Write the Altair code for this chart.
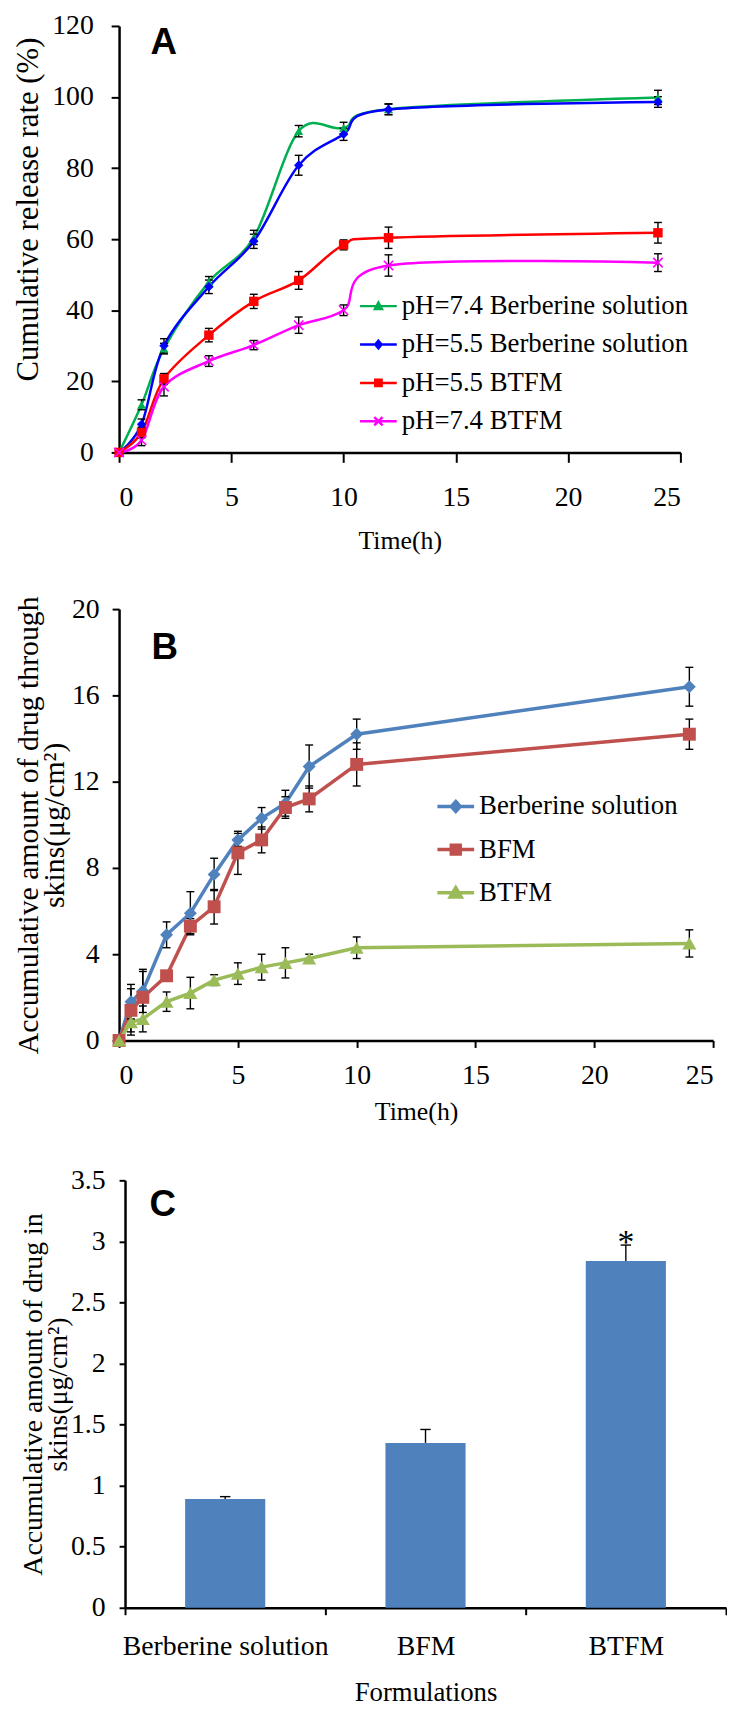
import altair as alt
import pandas as pd

# ---------------- Panel A data ----------------
a_time = [0, 1, 2, 4, 6, 8, 10, 12, 24]
a_series = ["pH=7.4 Berberine solution", "pH=5.5 Berberine solution", "pH=5.5 BTFM", "pH=7.4 BTFM"]
a_green = [0, 13.4, 29.2, 48.0, 60.5, 90.4, 91.3, 96.6, 99.9]
a_green_err = [0, 1.4, 1.5, 1.5, 2.0, 1.6, 1.6, 1.5, 2.0]
a_blue = [0, 7.9, 30.0, 46.6, 59.4, 80.8, 89.5, 96.5, 98.6]
a_blue_err = [0, 1.5, 2.0, 1.9, 2.0, 2.8, 1.7, 1.5, 1.5]
a_red = [0, 5.6, 20.7, 33.0, 42.5, 48.4, 58.4, 60.4, 61.8]
a_red_err = [0, 1.5, 1.5, 1.9, 2.0, 2.5, 1.4, 3.0, 2.9]
a_mag = [0, 3.4, 18.5, 25.7, 30.2, 35.8, 40.0, 52.6, 53.4]
a_mag_err = [0, 1.5, 2.6, 1.5, 1.3, 2.3, 1.5, 3.0, 2.5]

# ---------------- Panel B data ----------------
b_time = [0, 0.5, 1, 2, 3, 4, 5, 6, 7, 8, 10, 24]
b_series = ["Berberine solution", "BFM", "BTFM"]
b_sol = [0, 1.8, 2.3, 4.9, 5.9, 7.7, 9.3, 10.3, 11.0, 12.7, 14.2, 16.4]
b_sol_err = [0, 0.8, 1.0, 0.6, 1.0, 0.75, 0.3, 0.5, 0.6, 1.0, 0.7, 0.9]
b_bfm = [0, 1.4, 2.0, 3.0, 5.3, 6.2, 8.7, 9.3, 10.8, 11.2, 12.8, 14.2]
b_bfm_err = [0, 1.0, 1.2, 0.1, 0.35, 0.8, 1.0, 0.6, 0.5, 0.6, 1.0, 0.7]
b_btfm = [0, 0.85, 1.0, 1.8, 2.2, 2.8, 3.1, 3.4, 3.6, 3.8, 4.3, 4.5]
b_btfm_err = [0, 0.6, 0.6, 0.45, 0.73, 0.25, 0.5, 0.6, 0.7, 0.2, 0.5, 0.63]

# ---------------- Panel C data ----------------
c_cats = ["Berberine solution", "BFM", "BTFM"]
c_vals = [0.89, 1.35, 2.84]
c_errs = [0.02, 0.11, 0.13]
c_sig = ["", "", "*"]

SERIF = "Liberation Serif"
SANS = "Liberation Sans"


def long_df(times, names, vals, errs):
    rows = []
    for name, v, e in zip(names, vals, errs):
        for t, vi, ei in zip(times, v, e):
            rows.append({"series": name, "t": t, "v": vi, "e": ei,
                         "lo": vi - ei, "hi": vi + ei})
    return pd.DataFrame(rows)


dfA = long_df(a_time, a_series, [a_green, a_blue, a_red, a_mag],
              [a_green_err, a_blue_err, a_red_err, a_mag_err])
dfB = long_df(b_time, b_series, [b_sol, b_bfm, b_btfm],
              [b_sol_err, b_bfm_err, b_btfm_err])
dfC = pd.DataFrame({"cat": c_cats, "v": c_vals, "e": c_errs, "sig": c_sig})
dfC["hi"] = dfC["v"] + dfC["e"]


def make_x(title, tick_size, label_pad, title_pad):
    sc = alt.Scale(domain=[0, 25], nice=False)
    ax = alt.Axis(values=[0, 5, 10, 15, 20, 25], title=title,
                  tickSize=tick_size, labelPadding=label_pad,
                  titlePadding=title_pad, titleFontSize=26)
    return sc, ax


def make_y(domain, values, title, tick_size, label_pad, title_pad, title_size,
           line_h=None, extra=None):
    kw = dict(values=values, title=title, tickSize=tick_size,
              labelPadding=label_pad, titlePadding=title_pad,
              titleFontSize=title_size)
    if line_h is not None:
        kw["titleLineHeight"] = line_h
    if extra:
        kw.update(extra)
    return alt.Scale(domain=domain, nice=False), alt.Axis(**kw)


def panel_letter(letter, px, py):
    return alt.Chart(pd.DataFrame({"L": [letter]})).mark_text(
        font=SANS, fontWeight="bold", fontSize=37, color="black",
        align="center", baseline="middle"
    ).encode(x=alt.value(px), y=alt.value(py), text="L:N")


def line_panel(df, series, colors, shapes, sizes, filled, legend_paths,
               xspec, yspec, line_w, legend_x, legend_y, row_pad,
               marker_stroke, curve, label_offset):
    xs, xa = xspec
    ys, ya = yspec
    xf = lambda f: alt.X(f"{f}:Q", scale=xs, axis=xa)
    yf = lambda f: alt.Y(f"{f}:Q", scale=ys, axis=ya)

    line_kw = dict(interpolate=curve, strokeWidth=line_w)
    if curve == "cardinal":
        line_kw["tension"] = 0

    lines = []
    markers = []
    for s, c, sh, sz, fl in zip(series, colors, shapes, sizes, filled):
        lines.append(
            alt.Chart(df).transform_filter(alt.datum.series == s).mark_line(
                color=c, **line_kw).encode(x=xf("t"), y=yf("v"))
        )
        markers.append(
            alt.Chart(df).transform_filter(alt.datum.series == s).mark_point(
                shape=sh, size=sz, filled=fl, color=c, opacity=1,
                strokeWidth=marker_stroke if not fl else 0.5
            ).encode(x=xf("t"), y=yf("v"))
        )

    eb = alt.Chart(df).transform_filter("datum.e > 0").mark_rule(
        color="black", strokeWidth=1.4).encode(x=xf("t"), y=yf("lo"), y2="hi:Q")
    cap_lo = alt.Chart(df).transform_filter("datum.e > 0").mark_point(
        shape="stroke", size=64, color="black", strokeWidth=1.4, opacity=1).encode(x=xf("t"), y=yf("lo"))
    cap_hi = alt.Chart(df).transform_filter("datum.e > 0").mark_point(
        shape="stroke", size=64, color="black", strokeWidth=1.4, opacity=1).encode(x=xf("t"), y=yf("hi"))

    leg = alt.Legend(title=None, orient="none", legendX=legend_x, legendY=legend_y,
                     symbolSize=400, symbolStrokeWidth=line_w, labelFont=SERIF,
                     labelFontSize=27, labelColor="black", labelOffset=label_offset,
                     rowPadding=row_pad, padding=0, labelLimit=600, symbolOpacity=1)
    legend_layer = alt.Chart(df).transform_filter("false").mark_point(
        opacity=1, strokeWidth=line_w).encode(
        x=xf("t"), y=yf("v"),
        fill=alt.Fill("series:N", scale=alt.Scale(domain=series, range=colors), legend=leg),
        stroke=alt.Stroke("series:N", scale=alt.Scale(domain=series, range=colors), legend=leg),
        shape=alt.Shape("series:N", scale=alt.Scale(domain=series, range=legend_paths), legend=leg),
    )
    return lines + [eb, cap_lo, cap_hi] + markers + [legend_layer]


# ---------------- Panel A ----------------
colA = ["#00B050", "#0000FF", "#FF0000", "#FF00FF"]
shapesA = ["triangle-up", "diamond", "square", "M-1,-1L1,1M-1,1L1,-1"]
sizesA = [80, 90, 90, 90]
filledA = [True, True, True, False]
legA_paths = [
    "M-1.85,0H1.85M-0.35,0.3L0,-0.35L0.35,0.3Z",
    "M-1.85,0H1.85M0,-0.38L0.32,0L0,0.38L-0.32,0Z",
    "M-1.85,0H1.85M-0.32,-0.32H0.32V0.32H-0.32Z",
    "M-1.85,0H1.85M-0.42,-0.42L0.42,0.42M-0.42,0.42L0.42,-0.42",
]
xA = make_x("Time(h)", 10, 22, 16)
yA = make_y([0, 120], list(range(0, 121, 20)), "Cumulative release rate (%)",
            8, 18, 7, 31, extra={"titleAlign": "left", "titleY": 358})
layersA = line_panel(dfA, a_series, colA, shapesA, sizesA, filledA, legA_paths,
                     xA, yA, 2.5, 248, 269, 10.7, 1.6, "cardinal", 10)
chartA = alt.layer(*layersA, panel_letter("A", 45, 17)).properties(width=566, height=430)

# ---------------- Panel B ----------------
colB = ["#4F81BD", "#C0504D", "#9BBB59"]
shapesB = ["diamond", "square", "triangle-up"]
sizesB = [170, 170, 200]
filledB = [True, True, True]
legB_paths = [
    "M-1.85,0H1.85M0,-0.5L0.45,0L0,0.5L-0.45,0Z",
    "M-1.85,0H1.85M-0.45,-0.45H0.45V0.45H-0.45Z",
    "M-1.85,0H1.85M-0.55,0.42L0,-0.52L0.55,0.42Z",
]
xB = make_x("Time(h)", 7, 14, 10)
yB = make_y([0, 20], [0, 4, 8, 12, 16, 20],
            ["Accumulative amount of drug through", "skins(μg/cm²)"], 7, 13, 2, 30, 26)
layersB = line_panel(dfB, b_series, colB, shapesB, sizesB, filledB, legB_paths,
                     xB, yB, 3.5, 326, 185.5, 15.5, 1.5, "linear", 10)
chartB = alt.layer(*layersB, panel_letter("B", 46, 39)).properties(width=599, height=435)

# ---------------- Panel C ----------------
xC = alt.X("cat:N", sort=c_cats,
           scale=alt.Scale(paddingInner=0, paddingOuter=0, range=[6, 612]),
           axis=alt.Axis(title="Formulations", labelAngle=0, tickBand="extent",
                         tickSize=7, labelPadding=18, titlePadding=20,
                         titleFontSize=27, labelLimit=0))
yC_axis = alt.Axis(values=[0, 0.5, 1, 1.5, 2, 2.5, 3, 3.5], format=".1~f",
                   title=["Accumulative amount of drug in", "skins(μg/cm²)"],
                   tickSize=6, labelPadding=14, titlePadding=-2, offset=-6,
                   titleFontSize=28, titleLineHeight=25)
yC_scale = alt.Scale(domain=[0, 3.5], nice=False)
bars = alt.Chart(dfC).mark_bar(color="#4F81BD", width={"band": 0.4}).encode(
    x=xC, y=alt.Y("v:Q", scale=yC_scale, axis=yC_axis))
ebC = alt.Chart(dfC).mark_rule(color="black", strokeWidth=1.4).encode(
    x=xC, y=alt.Y("v:Q", scale=yC_scale, axis=yC_axis), y2="hi:Q")
capC = alt.Chart(dfC).mark_point(shape="stroke", size=110, color="black",
                                  strokeWidth=1.4, opacity=1).encode(
    x=xC, y=alt.Y("hi:Q", scale=yC_scale, axis=yC_axis))
starC = alt.Chart(dfC).mark_text(font=SERIF, fontSize=34, color="black",
                                  baseline="alphabetic", dy=8).encode(
    x=xC, y=alt.Y("hi:Q", scale=yC_scale, axis=yC_axis), text="sig:N")
chartC = alt.layer(bars, ebC, capC, starC, panel_letter("C", 44, 25)).properties(width=612, height=431)

chart = alt.vconcat(chartA, chartB, chartC, spacing=42).resolve_scale(
    fill="independent", stroke="independent", shape="independent"
).resolve_legend(
    fill="independent", stroke="independent", shape="independent"
).properties(
    padding={"left": 5, "top": -3, "right": 0, "bottom": 0}
).configure_view(stroke=None).configure_axis(
    grid=False, domainColor="black", domainWidth=2.5, tickColor="black",
    tickWidth=2, labelFont=SERIF, labelFontSize=28, labelColor="black",
    titleFont=SERIF, titleFontWeight="normal", titleColor="black",
).configure_legend(
    labelFont=SERIF, labelFontSize=27, labelColor="black"
)

chart.save("out.html", embed_options={"renderer": "svg", "actions": False})
